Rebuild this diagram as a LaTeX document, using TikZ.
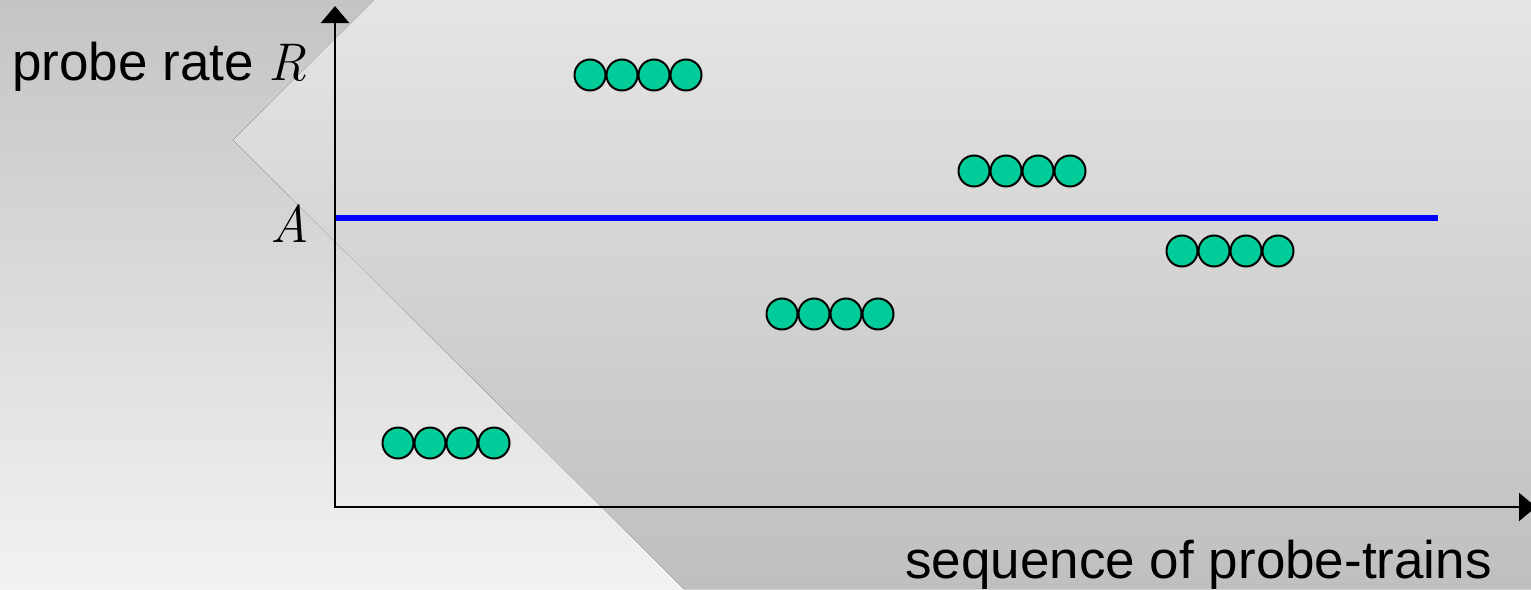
\documentclass[tikz,border=0pt]{standalone}
\usepackage{fontspec}
\setmainfont{Liberation Sans}
\newfontfamily\lmrfam{Latin Modern Roman}
\newcommand{\mvar}[1]{{\lmrfam\itshape #1}}
\usetikzlibrary{arrows.meta}
\definecolor{probe}{RGB}{0,204,153}
\definecolor{bgTL}{RGB}{196,196,196}
\definecolor{bgBL}{RGB}{242,242,242}
\definecolor{bgTR}{RGB}{229,229,229}
\definecolor{bgBR}{RGB}{191,191,191}
\tikzset{
  pkt/.style={circle, draw=black, fill=probe, line width=2pt, minimum size=31pt, inner sep=0pt},
  axis/.style={draw=black, line width=2.2pt, -{Triangle[length=17pt,width=28pt]}},
  lbl/.style={inner sep=0pt, font=\fontsize{53}{60}\selectfont},
  avail/.style={draw={rgb,255:red,0;green,0;blue,255}, line width=6pt}
}
\begin{document}
\begin{tikzpicture}[x=1pt,y=-1pt]
\useasboundingbox (0,0) rectangle (1531,589);
% background
\fill[top color=bgTL, bottom color=bgBL] (0,0) rectangle (1531,589);
\fill[top color=bgTR, bottom color=bgBR] (374,0) -- (1531,0) -- (1531,589) -- (684,589) -- (233,140) -- cycle;
% axes
\coordinate (O) at (335,507);
\coordinate (Ytop) at (335,6);
\coordinate (Xend) at (1536,507);
\draw[axis] (O) -- (Ytop);
\draw[axis] ([xshift=-1.1pt]O) -- (Xend);
% available bandwidth line
\coordinate (A1) at (336,218);
\coordinate (A2) at (1438,218);
\draw[avail] (A1) -- (A2);
% labels
\node[lbl, anchor=base west] (ylab) at (12,80) {probe rate \mvar{R}};
\node[lbl, anchor=base east] (alab) at (309,242) {\mvar{A}};
\node[lbl, anchor=base east] (xlab) at (1492,578) {sequence of probe-trains};
% probe trains
\foreach \g/\x/\y in {1/398/443, 2/590/75, 3/782/314, 4/974/171, 5/1182/251}{
  \foreach \k in {0,1,2,3}{
    \node[pkt] (p\g\k) at ({\x+32*\k},\y) {};
  }
}
\end{tikzpicture}
\end{document}
